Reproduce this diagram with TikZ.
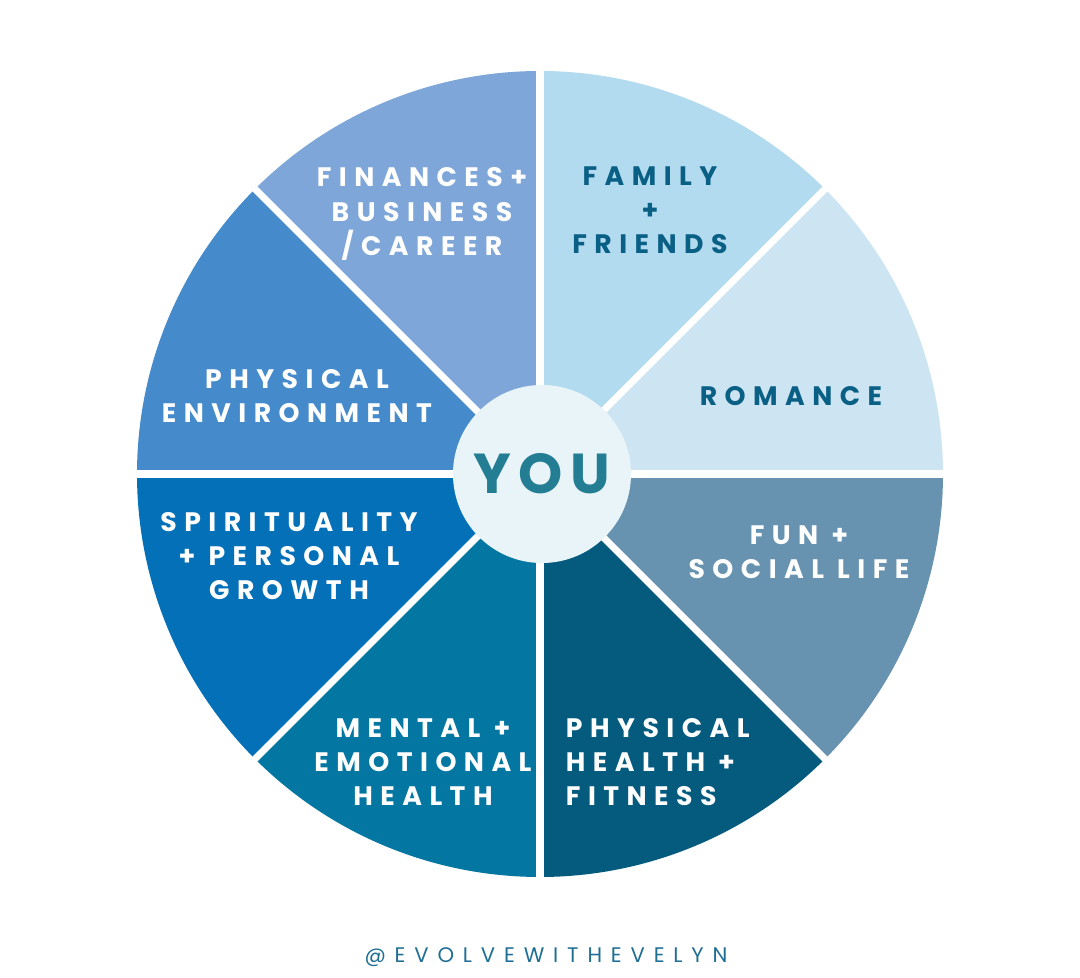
\documentclass[tikz,border=0pt]{standalone}
\usepackage{fontspec}
\usepackage{xcolor}
\usepackage{tikz}
\usetikzlibrary{positioning}

\setmainfont{Poppins}
\newfontfamily\wheelfont[LetterSpace=28]{Poppins}
\newfontfamily\youfont[LetterSpace=14]{Poppins}
\newfontfamily\tagfont[LetterSpace=42]{Poppins}

\definecolor{financecol}{HTML}{7EA6D8}
\definecolor{famcol}{HTML}{B2DBEF}
\definecolor{romancecol}{HTML}{CDE5F3}
\definecolor{funcol}{HTML}{6792B0}
\definecolor{healthcol}{HTML}{045B7E}
\definecolor{mentalcol}{HTML}{0377A1}
\definecolor{spiritcol}{HTML}{0470B8}
\definecolor{environcol}{HTML}{458ACA}
\definecolor{youfill}{HTML}{E8F4F8}
\definecolor{youtext}{HTML}{237D93}
\definecolor{darktext}{HTML}{0A5F85}
\definecolor{tagtext}{HTML}{1F6F94}

\tikzset{
  lbl/.style={font=\wheelfont\bfseries\fontsize{19}{24.2}\selectfont, align=center, text=white},
  lbldark/.style={lbl, text=darktext},
}

\begin{document}
\begin{tikzpicture}[x=0.025cm, y=0.025cm]

  \useasboundingbox (-540,-504) rectangle (540,474);

  %% ─── Wheel sectors ─────────────────────────────────────────────────────
  \fill[famcol]     (0,0) -- (45:403)  arc[start angle=45,  end angle=90,  radius=403] -- cycle;
  \fill[financecol] (0,0) -- (90:403)  arc[start angle=90,  end angle=135, radius=403] -- cycle;
  \fill[environcol] (0,0) -- (135:403) arc[start angle=135, end angle=180, radius=403] -- cycle;
  \fill[spiritcol]  (0,0) -- (180:403) arc[start angle=180, end angle=225, radius=403] -- cycle;
  \fill[mentalcol]  (0,0) -- (225:403) arc[start angle=225, end angle=270, radius=403] -- cycle;
  \fill[healthcol]  (0,0) -- (270:403) arc[start angle=270, end angle=315, radius=403] -- cycle;
  \fill[funcol]     (0,0) -- (315:403) arc[start angle=315, end angle=360, radius=403] -- cycle;
  \fill[romancecol] (0,0) -- (0:403)   arc[start angle=0,   end angle=45,  radius=403] -- cycle;

  %% white spokes between sectors
  \foreach \a in {0,45,...,315}
    \draw[white, line width=5pt] (0,0) -- (\a:410);

  %% ─── Hub ───────────────────────────────────────────────────────────────
  \node[circle, fill=youfill, minimum size=4.45cm, inner sep=0pt,
        font=\youfont\bfseries\fontsize{40}{42}\selectfont, text=youtext] (you)
      at (2,0) {YOU};

  %% ─── Sector labels ─────────────────────────────────────────────────────
  \node[lbl] (finances) at (-118,260) {FINANCES+\\BUSINESS\\/CAREER};
  \node[lbldark] (familyfr) at (110,264) {FAMILY\\+\\FRIENDS};
  \node[lbldark] (romancel) at (251,78) {ROMANCE};
  \node[lbl] (physenv) at (-243,78) {PHYSICAL\\ENVIRONMENT};
  \node[lbl] (spiritual) at (-251,-82) {SPIRITUALITY\\+ PERSONAL\\GROWTH};
  \node[lbl] (funlife) at (259,-78) {FUN +\\SOCIAL LIFE};
  \node[lbl] (mentalemo) at (-117,-288) {MENTAL +\\EMOTIONAL\\HEALTH};
  \node[lbl, align=left, anchor=west] (physhealth) at (21,-288) {PHYSICAL\\HEALTH +\\FITNESS};

  %% handle
  \node[font=\tagfont\fontsize{15}{18}\selectfont, text=tagtext] (handle)
      at (6,-483) {@EVOLVEWITHEVELYN};

\end{tikzpicture}
\end{document}
